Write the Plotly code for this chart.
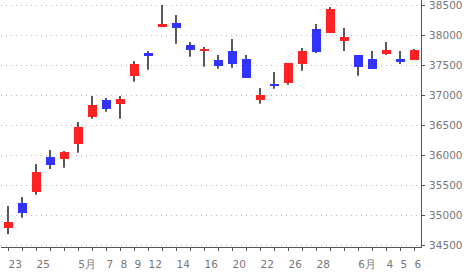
import plotly.graph_objects as go

# Trading days (index positions) and OHLC values
dates = ["4/23", "4/24", "4/25", "4/28", "4/30", "5/1", "5/2", "5/7", "5/8", "5/9",
         "5/12", "5/13", "5/14", "5/15", "5/16", "5/19", "5/20", "5/21", "5/22", "5/23",
         "5/26", "5/27", "5/28", "5/29", "5/30", "6/2", "6/3", "6/4", "6/5", "6/6"]
opens = [34789, 35200, 35383, 35967, 35933, 36189, 36639, 36917, 36856, 37322,
         37700, 38139, 38200, 37833, 37739, 37583, 37733, 37600, 36922, 37167,
         37206, 37522, 38100, 38033, 37900, 37667, 37600, 37683, 37600, 37583]
highs = [35150, 35300, 35850, 36083, 36067, 36550, 36983, 36950, 36983, 37567,
         37733, 38500, 38333, 37883, 37800, 37667, 37933, 37667, 37117, 37383,
         37533, 37783, 38183, 38467, 38117, 37667, 37733, 37883, 37733, 37767]
lows = [34678, 34955, 35339, 35767, 35789, 36039, 36606, 36722, 36606, 37222,
        37422, 38128, 37855, 37639, 37472, 37439, 37456, 37289, 36856, 37106,
        37172, 37406, 37700, 38033, 37733, 37322, 37433, 37667, 37517, 37583]
closes = [34883, 35039, 35717, 35839, 36050, 36467, 36833, 36772, 36933, 37517,
          37644, 38183, 38122, 37755, 37767, 37489, 37522, 37289, 37000, 37150,
          37533, 37733, 37717, 38433, 37967, 37472, 37433, 37750, 37550, 37750]

# x-axis labels (index of the trading day -> label)
label_idx = [0, 2, 5, 7, 8, 9, 10, 12, 14, 16, 18, 20, 22, 25, 27, 28, 29]
label_txt = ["23", "25", "5月", "7", "8", "9", "12", "14", "16", "20", "22", "26", "28",
             "6月", "4", "5", "6"]

y_ticks = [34500, 35000, 35500, 36000, 36500, 37000, 37500, 38000, 38500]

UP = "#ff2222"
DOWN = "#3333ff"
AX = "#555555"
TXT = "#777777"
FONT = "DejaVu Sans"

n = len(dates)
xs = list(range(n))

# wicks
wx, wy = [], []
for i in xs:
    wx += [i, i, None]
    wy += [lows[i], highs[i], None]

bases = [min(o, c) for o, c in zip(opens, closes)]
heights = [max(abs(c - o), 17) for o, c in zip(opens, closes)]
colors = [UP if c >= o else DOWN for o, c in zip(opens, closes)]

fig = go.Figure()
fig.add_trace(go.Scatter(x=wx, y=wy, mode="lines", line=dict(color="black", width=1.3),
                         hoverinfo="skip", showlegend=False, xaxis="x", yaxis="y"))
fig.add_trace(go.Bar(x=xs, y=heights, base=bases, marker=dict(color=colors, line=dict(width=0)),
                     width=9 / 14, hoverinfo="skip", showlegend=False, xaxis="x2", yaxis="y"))

# label positions: left-aligned at the tick
def text_w(s):
    return sum(10.5 if ord(ch) > 255 else 6.5 for ch in s)

px_per_unit = 14.0
label_pos = [i + (text_w(t) / 2 + 0.7) / px_per_unit for i, t in zip(label_idx, label_txt)]

fig.update_layout(
    width=470, height=278,
    margin=dict(l=1, r=49, t=0, b=31),
    paper_bgcolor="white", plot_bgcolor="white",
    bargap=0,
    xaxis=dict(
        range=[-0.5, n - 0.5], showgrid=False, zeroline=False,
        showline=True, linecolor=AX, linewidth=1,
        tickmode="array", tickvals=label_idx, ticktext=[""] * len(label_idx),
        ticks="outside", ticklen=6, tickcolor=AX, tickwidth=1,
        showticklabels=False,
        minor=dict(tickmode="linear", tick0=0, dtick=1, ticks="outside", ticklen=3,
                   tickcolor=AX, tickwidth=1, showgrid=False),
    ),
    xaxis2=dict(
        overlaying="x", matches="x", anchor="y", side="bottom",
        showgrid=False, zeroline=False, showline=False,
        tickmode="array", tickvals=label_pos, ticktext=label_txt,
        ticks="", ticklabelstandoff=9,
        tickfont=dict(family=FONT, size=10.5, color=TXT),
    ),
    yaxis=dict(
        side="right", range=[34466.7, 38583.3],
        tickmode="array", tickvals=y_ticks, ticktext=[str(v) for v in y_ticks],
        showgrid=True, gridcolor="#bbbbbb", griddash="1px,4px", gridwidth=1,
        zeroline=False, showline=True, linecolor=AX, linewidth=1,
        ticks="outside", ticklen=3, tickcolor=AX, tickwidth=1,
        tickfont=dict(family=FONT, size=10.5, color=TXT),
        ticklabelstandoff=2, ticklabeloverflow="allow",
    ),
)

fig.write_html("out.html")
